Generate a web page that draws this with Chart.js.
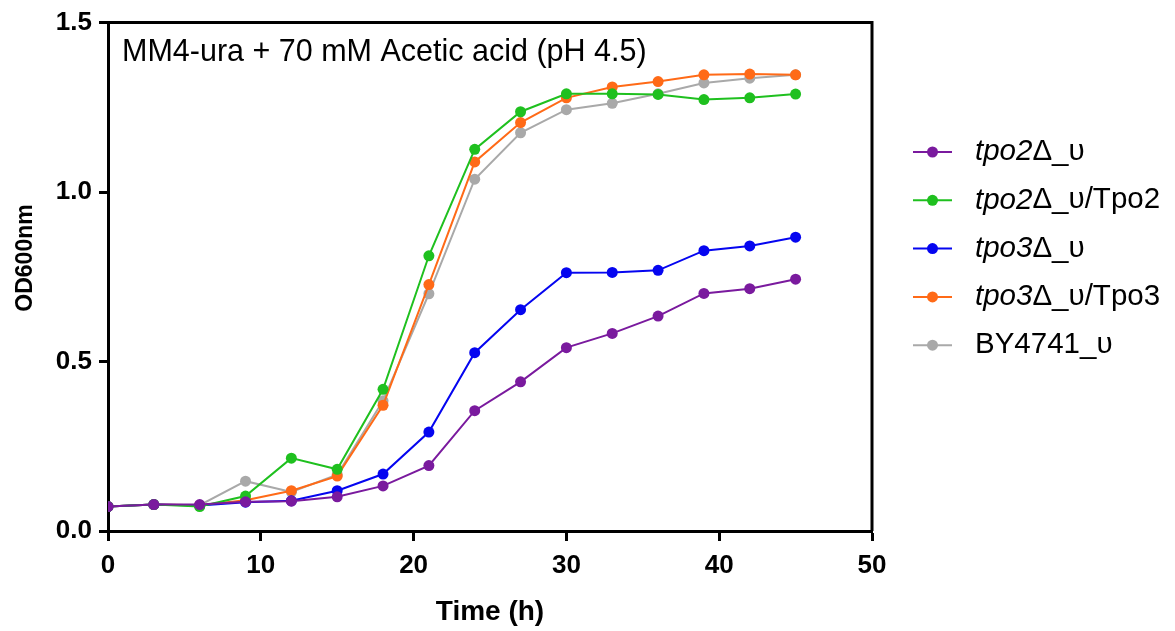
<!DOCTYPE html>
<html>
<head>
<meta charset="utf-8">
<title>OD600 growth curves</title>
<script src="https://cdn.jsdelivr.net/npm/chart.js@4.4.1/dist/chart.umd.min.js"></script>
<style>
  html, body { margin: 0; padding: 0; background: #fff; }
  #wrap { width: 1175px; height: 631px; }
</style>
</head>
<body>
<div id="wrap"><canvas id="growth" width="1175" height="631"></canvas></div>
<script>
// sampling times (h)
const times = [0, 3, 6, 9, 12, 15, 18, 21, 24, 27, 30, 33, 36, 39, 42, 45];

// OD600 readings per strain
const tpo2 = [0.072, 0.078, 0.078, 0.086, 0.088, 0.101, 0.133, 0.193, 0.355, 0.440, 0.541, 0.583, 0.634, 0.701, 0.715, 0.743];
const tpo2Tpo2 = [0.072, 0.078, 0.072, 0.103, 0.215, 0.182, 0.418, 0.812, 1.126, 1.237, 1.290, 1.290, 1.288, 1.273, 1.278, 1.289];
const tpo3 = [0.072, 0.078, 0.075, 0.085, 0.089, 0.119, 0.168, 0.292, 0.526, 0.653, 0.762, 0.763, 0.769, 0.827, 0.841, 0.867];
const tpo3Tpo3 = [0.072, 0.078, 0.076, 0.091, 0.119, 0.162, 0.371, 0.727, 1.089, 1.205, 1.278, 1.310, 1.326, 1.346, 1.348, 1.346];
const by4741 = [0.072, 0.078, 0.076, 0.147, 0.115, 0.166, 0.384, 0.700, 1.038, 1.175, 1.243, 1.262, 1.290, 1.322, 1.336, 1.346];

const labels = ['tpo2Δ_υ', 'tpo2Δ_υ/Tpo2', 'tpo3Δ_υ', 'tpo3Δ_υ/Tpo3', 'BY4741_υ'];
// part of each label set in italics (gene names)
const italicPart = ['tpo2', 'tpo2', 'tpo3', 'tpo3', ''];
const colors = ['#7a1a9e', '#1fc01f', '#0505f0', '#ff6a17', '#a9a9a9'];
const series = [tpo2, tpo2Tpo2, tpo3, tpo3Tpo3, by4741];

const xTicks = [0, 10, 20, 30, 40, 50];
const yTicks = [0, 0.5, 1.0, 1.5];

const FONT = '"Liberation Sans", Arial, Helvetica, sans-serif';

const datasets = series.map((vals, i) => ({
  label: labels[i],
  data: times.map((t, j) => ({ x: t, y: vals[j] })),
  borderColor: colors[i],
  backgroundColor: colors[i],
  pointBackgroundColor: colors[i],
  pointBorderWidth: 0,
  pointRadius: 5.5,
  borderWidth: 2,
  tension: 0,
}));

// box around the plot, y title, condition text and legend with italic gene names
const decorations = {
  id: 'decorations',
  afterDatasetsDraw(chart) {
    const { ctx, chartArea: a } = chart;
    ctx.save();
    ctx.strokeStyle = '#000';
    ctx.lineWidth = 3;
    ctx.beginPath();
    ctx.moveTo(a.left, a.top);
    ctx.lineTo(a.right, a.top);
    ctx.lineTo(a.right, a.bottom);
    ctx.stroke();

    ctx.fillStyle = '#000';
    ctx.font = '30.5px ' + FONT;
    ctx.textBaseline = 'alphabetic';
    ctx.textAlign = 'left';
    ctx.fillText('MM4-ura + 70 mM Acetic acid (pH 4.5)', a.left + 14, 61);

    // y axis title
    ctx.save();
    ctx.translate(26, 258);
    ctx.rotate(-Math.PI / 2);
    ctx.textAlign = 'center';
    ctx.textBaseline = 'middle';
    ctx.font = 'bold 23px ' + FONT;
    ctx.fillText('OD600nm', 0, 0);
    ctx.restore();

    // legend
    chart.data.datasets.forEach((ds, i) => {
      const y = 152 + i * 48.3;
      ctx.strokeStyle = ds.borderColor;
      ctx.lineWidth = 2;
      ctx.beginPath();
      ctx.moveTo(913, y);
      ctx.lineTo(952, y);
      ctx.stroke();
      ctx.fillStyle = ds.borderColor;
      ctx.beginPath();
      ctx.arc(932.5, y, 5.5, 0, Math.PI * 2);
      ctx.fill();

      ctx.fillStyle = '#000';
      ctx.textAlign = 'left';
      ctx.textBaseline = 'middle';
      let x = 975;
      const it = italicPart[i];
      if (it) {
        ctx.font = 'italic 29.5px ' + FONT;
        ctx.fillText(it, x, y);
        x += ctx.measureText(it).width;
      }
      ctx.font = '29.5px ' + FONT;
      ctx.fillText(ds.label.slice(it.length), x, y);
    });
    ctx.restore();
  }
};

new Chart(document.getElementById('growth'), {
  type: 'line',
  data: { datasets },
  plugins: [decorations],
  options: {
    responsive: false,
    animation: false,
    devicePixelRatio: 1,
    layout: { padding: { top: 22, right: 303, left: 0, bottom: 0 } },
    plugins: {
      legend: { display: false },
      tooltip: { enabled: false },
    },
    scales: {
      x: {
        type: 'linear',
        min: 0,
        max: 50,
        afterFit: (s) => { s.height = 100; },
        afterBuildTicks: (s) => { s.ticks = xTicks.map(v => ({ value: v })); },
        border: { display: true, color: '#000', width: 3 },
        grid: { display: true, drawOnChartArea: false, drawTicks: true, tickLength: 10, tickWidth: 3, tickColor: '#000' },
        ticks: { color: '#000', padding: 9, font: { family: FONT, size: 26, weight: 'bold' } },
        title: {
          display: true,
          text: 'Time (h)',
          color: '#000',
          padding: { top: 0, bottom: 2 },
          font: { family: FONT, size: 28, weight: 'bold' },
        },
      },
      y: {
        type: 'linear',
        min: 0,
        max: 1.5,
        afterFit: (s) => { s.width = 108; },
        afterBuildTicks: (s) => { s.ticks = yTicks.map(v => ({ value: v })); },
        border: { display: true, color: '#000', width: 3 },
        grid: { display: true, drawOnChartArea: false, drawTicks: true, tickLength: 9, tickWidth: 3, tickColor: '#000' },
        ticks: {
          color: '#000',
          padding: 7,
          font: { family: FONT, size: 26, weight: 'bold' },
          callback: (v) => v.toFixed(1),
        },
        title: { display: false },
      },
    },
  },
});
</script>
</body>
</html>
